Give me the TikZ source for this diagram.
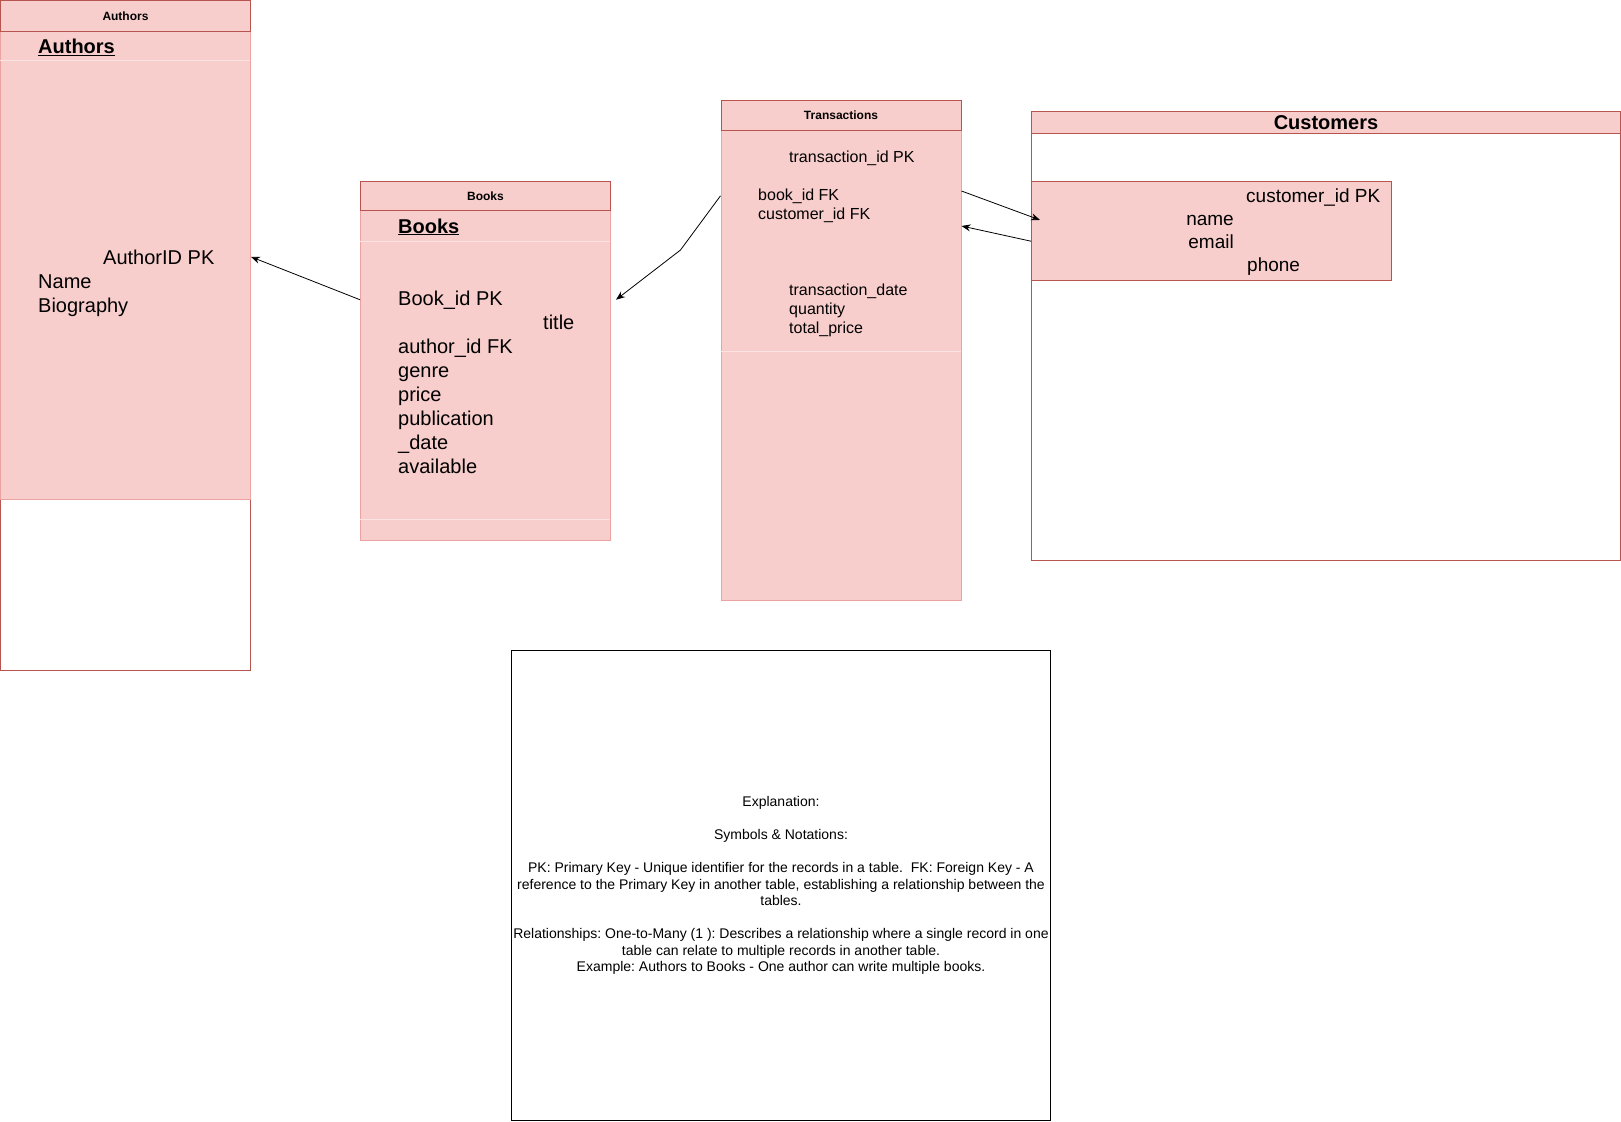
\documentclass[tikz,border=0pt]{standalone}
\usepackage{fontspec}
\setmainfont{Liberation Sans}
\usetikzlibrary{arrows.meta,calc}
\frenchspacing

\definecolor{erdpink}{HTML}{F8CECC}
\definecolor{erdred}{HTML}{B85450}
\definecolor{erdrim}{HTML}{EBA3A1}
\definecolor{erdsep}{HTML}{FBE3E2}

\tikzset{
  outerbox/.style={draw=erdred, fill=white, line width=1pt, anchor=north west, inner sep=0pt},
  headbox/.style={draw=erdred, fill=erdpink, line width=1pt, anchor=north west, inner sep=0pt},
  bodybox/.style={draw=erdrim, fill=erdpink, line width=1pt, anchor=north west, inner sep=0pt},
  tabletitle/.style={inner sep=0pt, font=\fontsize{12}{14}\selectfont\bfseries},
  bigtitle/.style={anchor=base west, inner sep=0pt, font=\fontsize{20}{24}\selectfont\bfseries},
  attr/.style={anchor=base west, inner sep=0pt, font=\fontsize{20}{24}\selectfont},
  smallattr/.style={anchor=base west, inner sep=0pt, font=\fontsize{16}{19}\selectfont},
  custattr/.style={inner sep=0pt, font=\fontsize{19}{23}\selectfont},
  conn/.style={-{Stealth[length=9pt,width=7pt]}, line width=0.8pt, black},
}

\begin{document}
\begin{tikzpicture}[x=1pt,y=-1pt]
  \useasboundingbox (0,0) rectangle (1621,1121);

  % Authors table
  \node[outerbox, minimum width=250pt, minimum height=670pt] (authors) at (0,0) {};
  \node[bodybox, minimum width=250pt, minimum height=468pt] (authorsBody) at (0,31) {};
  \draw[erdsep] (0,60) -- (250,60);
  \node[headbox, minimum width=250pt, minimum height=31pt] (authorsHead) at (0,0) {};
  \node[tabletitle] (authorsTitle) at (authorsHead) {Authors};
  \node[bigtitle] (authorsName) at (38,53.5) {\underline{Authors}};
  \node[attr] (authorId) at (103,264) {AuthorID PK};
  \node[attr] (authorName) at (38,288) {Name};
  \node[attr] (authorBio) at (38,312) {Biography};

  % Books table
  \node[bodybox, minimum width=250pt, minimum height=359pt] (booksBody) at (360,181) {};
  \draw[erdsep] (360,241) -- (610,241);
  \draw[erdsep] (360,519) -- (610,519);
  \node[headbox, minimum width=250pt, minimum height=29pt] (booksHead) at (360,181) {};
  \node[tabletitle] (booksTitle) at (booksHead) {Books};
  \node[bigtitle] (booksName) at (398,233) {\underline{Books}};
  \node[attr] (bookId) at (398,305) {Book\_id PK};
  \node[attr] (bookTitle) at (543,329) {title};
  \node[attr] (bookAuthor) at (398,353) {author\_id FK};
  \node[attr] (bookGenre) at (398,377) {genre};
  \node[attr] (bookPrice) at (398,401) {price};
  \node[attr] (bookPub) at (398,425) {publication};
  \node[attr] (bookDate) at (398,449) {\_date};
  \node[attr] (bookAvail) at (398,473) {available};

  % Transactions table
  \node[bodybox, minimum width=240pt, minimum height=500pt] (transBody) at (720.5,100) {};
  \draw[erdsep] (720.5,351.5) -- (960.5,351.5);
  \node[headbox, minimum width=240pt, minimum height=30pt] (transHead) at (720.5,100) {};
  \node[tabletitle] (transTitle) at (transHead) {Transactions};
  \node[smallattr] (transId) at (789,162) {transaction\_id PK};
  \node[smallattr] (bookFk) at (758,200) {book\_id FK};
  \node[smallattr] (custFk) at (758,219) {customer\_id FK};
  \node[smallattr] (transDate) at (789,295) {transaction\_date};
  \node[smallattr] (transQty) at (789,314) {quantity};
  \node[smallattr] (transTotal) at (789,333) {total\_price};

  % Customers table
  \node[outerbox, minimum width=589pt, minimum height=449pt] (customers) at (1031,111) {};
  \node[headbox, minimum width=589pt, minimum height=22pt] (custHead) at (1031,111) {};
  \node[inner sep=0pt, font=\fontsize{20}{24}\selectfont\bfseries] (custTitle) at (custHead) {Customers};
  \node[headbox, minimum width=359.5pt, minimum height=99pt] (custKeys) at (1031,181) {};
  \node[custattr, anchor=base west] (custId) at (1246,202) {customer\_id PK};
  \node[custattr, anchor=base east] (custName) at (1234,225) {name};
  \node[custattr, anchor=base east] (custEmail) at (1234,248) {email};
  \node[custattr, anchor=base west] (custPhone) at (1247,271) {phone};

  % Explanation
  \node[draw=black, line width=1pt, anchor=north west, inner sep=0pt,
        minimum width=539pt, minimum height=470pt, align=center,
        font=\fontsize{14}{16.5}\selectfont] (explain) at (511,650)
    {Explanation:\\[16.5pt]
     Symbols \& Notations:\\[16.5pt]
     PK: Primary Key - Unique identifier for the records in a table.\ \ FK: Foreign Key - A\\
     reference to the Primary Key in another table, establishing a relationship between the\\
     tables.\\[16.5pt]
     Relationships: One-to-Many (1 ): Describes a relationship where a single record in one\\
     table can relate to multiple records in another table.\\
     Example: Authors to Books - One author can write multiple books.};

  % Connectors
  \coordinate (bend) at (680.5,250);
  \draw[conn] (booksBody.west |- bookId) -- (authorsBody.east |- authorId);
  \draw[conn] (transBody.west |- bookFk) -- (bend) -- ($(booksBody.east |- bookId)+(5,0)$);
  \draw[conn] ([yshift=-60pt]transHead.south east) -- ($(custKeys.west |- custName)+(9,0)$);
  \draw[conn] (custKeys.west |- custEmail) -- ([yshift=-95pt]transHead.south east);
\end{tikzpicture}
\end{document}
